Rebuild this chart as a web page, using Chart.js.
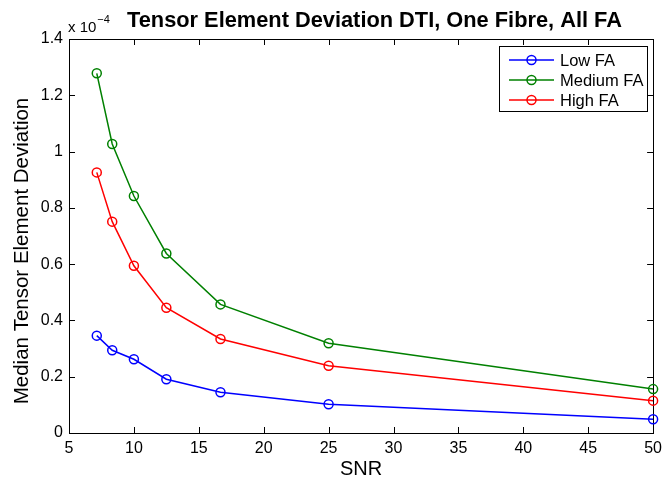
<!DOCTYPE html>
<html>
<head>
<meta charset="utf-8">
<script src="https://cdn.jsdelivr.net/npm/chart.js@4/dist/chart.umd.min.js"></script>
<style>
  html, body { margin: 0; padding: 0; background: #fff; }
  #wrap { width: 668px; height: 486px; }
</style>
</head>
<body>
<div id="wrap"><canvas id="c" width="668" height="486"></canvas></div>
<script>
// Signal-to-noise ratios tested
const snr = [7.14, 8.33, 10, 12.5, 16.67, 25, 50];

// Median tensor element deviation, in units of 1e-4
const lowFA    = [0.346, 0.294, 0.262, 0.191, 0.145, 0.102, 0.049];
const mediumFA = [1.278, 1.027, 0.842, 0.638, 0.457, 0.319, 0.156];
const highFA   = [0.926, 0.751, 0.594, 0.445, 0.334, 0.239, 0.115];

const seriesNames  = ['Low FA', 'Medium FA', 'High FA'];
const seriesColors = ['#0000ff', '#008000', '#ff0000'];

const xTickLabels = ['5', '10', '15', '20', '25', '30', '35', '40', '45', '50'];
const yTickLabels = ['0', '0.2', '0.4', '0.6', '0.8', '1', '1.2', '1.4'];

const titleText = 'Tensor Element Deviation DTI, One Fibre, All FA';
const yTitleText = 'Median Tensor Element Deviation';
const FONT = '"Liberation Sans", Arial, Helvetica, sans-serif';

const toPoints = vals => snr.map((x, i) => ({ x: x, y: vals[i] }));

const datasets = [lowFA, mediumFA, highFA].map((vals, i) => ({
  label: seriesNames[i],
  data: toPoints(vals),
  borderColor: seriesColors[i],
  backgroundColor: 'rgba(0,0,0,0)',
  pointBorderColor: seriesColors[i],
  pointBackgroundColor: 'rgba(0,0,0,0)',
  borderWidth: 1.5,
  pointRadius: 4.5,
  pointBorderWidth: 1.5,
  tension: 0,
  clip: false
}));

// Box around the axes with inward tick marks on all four sides
const axesBox = {
  id: 'axesBox',
  beforeDatasetsDraw(chart) {
    const { ctx, chartArea: a, scales } = chart;
    const len = 6;
    ctx.save();
    ctx.strokeStyle = '#000';
    ctx.lineWidth = 1;
    ctx.strokeRect(Math.round(a.left) + 0.5, Math.round(a.top) + 0.5,
                   Math.round(a.right - a.left), Math.round(a.bottom - a.top));
    ctx.beginPath();
    scales.x.ticks.forEach(t => {
      const px = Math.round(scales.x.getPixelForValue(t.value)) + 0.5;
      ctx.moveTo(px, a.bottom); ctx.lineTo(px, a.bottom - len);
      ctx.moveTo(px, a.top);    ctx.lineTo(px, a.top + len);
    });
    scales.y.ticks.forEach(t => {
      const py = Math.round(scales.y.getPixelForValue(t.value)) + 0.5;
      ctx.moveTo(a.left, py);  ctx.lineTo(a.left + len, py);
      ctx.moveTo(a.right, py); ctx.lineTo(a.right - len, py);
    });
    ctx.stroke();
    ctx.restore();
  }
};

// Title, y-axis label and exponent label around the axes
const headerText = {
  id: 'headerText',
  afterDraw(chart) {
    const { ctx, chartArea: a } = chart;
    ctx.save();
    ctx.fillStyle = '#000';
    ctx.textBaseline = 'alphabetic';
    ctx.font = 'bold 21.8px ' + FONT;
    ctx.textAlign = 'left';
    ctx.fillText(titleText, 127, 27);

    ctx.font = '15px ' + FONT;
    ctx.fillText('x 10', a.left - 1, 32);
    const w = ctx.measureText('x 10').width;
    ctx.font = '11px ' + FONT;
    ctx.fillText('\u22124', a.left - 1 + w + 1, 23);

    ctx.translate(28, (a.top + a.bottom) / 2 + 15);
    ctx.rotate(-Math.PI / 2);
    ctx.textAlign = 'center';
    ctx.font = '20.5px ' + FONT;
    ctx.fillText(yTitleText, 0, 0);
    ctx.restore();
  }
};

// Legend box in the upper right of the axes
const boxLegend = {
  id: 'boxLegend',
  afterDatasetsDraw(chart) {
    const { ctx } = chart;
    const x0 = 499, y0 = 46, w = 148, h = 65;
    ctx.save();
    ctx.fillStyle = '#fff';
    ctx.fillRect(x0, y0, w, h);
    ctx.strokeStyle = '#000';
    ctx.lineWidth = 1;
    ctx.strokeRect(x0 + 0.5, y0 + 0.5, w, h);
    chart.data.datasets.forEach((ds, i) => {
      const y = 60 + i * 20;
      ctx.strokeStyle = ds.borderColor;
      ctx.lineWidth = 1.5;
      ctx.beginPath();
      ctx.moveTo(509, y); ctx.lineTo(554, y);
      ctx.stroke();
      ctx.beginPath();
      ctx.arc(531.5, y, 4.5, 0, Math.PI * 2);
      ctx.stroke();
      ctx.fillStyle = '#000';
      ctx.font = '16.5px ' + FONT;
      ctx.textBaseline = 'middle';
      ctx.textAlign = 'left';
      ctx.fillText(ds.label, 560, y + 1);
    });
    ctx.restore();
  }
};

new Chart(document.getElementById('c'), {
  type: 'line',
  data: { datasets: datasets },
  options: {
    responsive: false,
    animation: false,
    layout: { padding: { top: 39, right: 12, bottom: 0, left: 0 } },
    plugins: { legend: { display: false }, title: { display: false }, tooltip: { enabled: false } },
    scales: {
      x: {
        type: 'linear',
        min: 5, max: 50,
        afterFit(s) { s.height = 53; },
        grid: { display: false, drawTicks: false },
        border: { display: false },
        ticks: {
          stepSize: 5,
          padding: 6,
          color: '#000',
          font: { size: 16, family: FONT },
          maxRotation: 0,
          callback: (v, i) => xTickLabels[i]
        },
        title: {
          display: true, text: 'SNR', color: '#000',
          font: { size: 20, family: FONT },
          padding: { top: 0, bottom: 5 }
        }
      },
      y: {
        min: 0, max: 1.4,
        afterFit(s) { s.width = 69; },
        grid: { display: false, drawTicks: false },
        border: { display: false },
        ticks: {
          stepSize: 0.2,
          padding: 6,
          color: '#000',
          font: { size: 16, family: FONT },
          callback: (v, i) => yTickLabels[i]
        },
        title: { display: false }
      }
    }
  },
  plugins: [axesBox, headerText, boxLegend]
});
</script>
</body>
</html>
